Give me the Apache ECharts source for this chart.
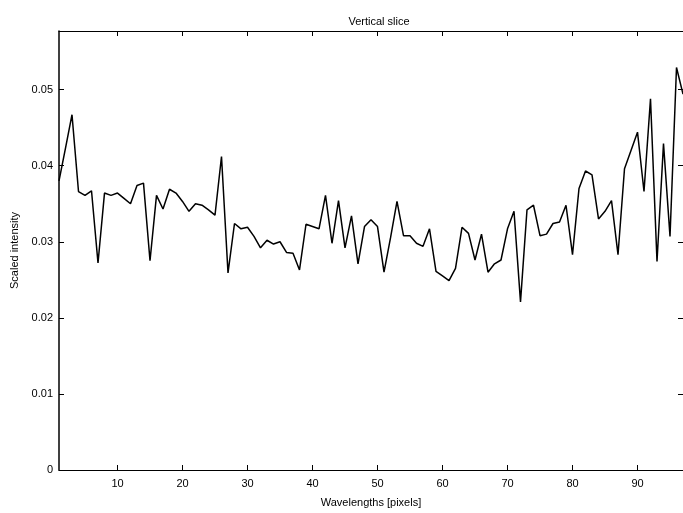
<!DOCTYPE html>
<html>
<head>
<meta charset="utf-8">
<title>Vertical slice</title>
<script src="https://cdn.jsdelivr.net/npm/echarts@6/dist/echarts.min.js"></script>
<style>
  html, body { margin: 0; padding: 0; background: #fff; }
  #chart { width: 683px; height: 513px; }
</style>
</head>
<body>
<div id="chart"></div>
<script>
// Scaled intensity per wavelength index (pixels 1..97)
const intensity = [
  0.0380, 0.0423, 0.0467, 0.0366, 0.0361, 0.0367, 0.0272, 0.0364, 0.0361, 0.0364,
  0.0357, 0.0350, 0.0374, 0.0377, 0.0275, 0.0361, 0.0343, 0.0369, 0.0364, 0.0353,
  0.0340, 0.0350, 0.0348, 0.0342, 0.0335, 0.0412, 0.0259, 0.0324, 0.0317, 0.0319,
  0.0307, 0.0292, 0.0302, 0.0297, 0.0300, 0.0286, 0.0285, 0.0263, 0.0323, 0.0320,
  0.0317, 0.0361, 0.0298, 0.0354, 0.0292, 0.0334, 0.0271, 0.0320, 0.0329, 0.0320,
  0.0260, 0.0305, 0.0353, 0.0308, 0.0308, 0.0298, 0.0294, 0.0317, 0.0261, 0.0255,
  0.0249, 0.0265, 0.0319, 0.0311, 0.0276, 0.0310, 0.0260, 0.0271, 0.0276, 0.0317,
  0.0340, 0.0221, 0.0342, 0.0348, 0.0308, 0.0310, 0.0324, 0.0326, 0.0348, 0.0283,
  0.0370, 0.0393, 0.0388, 0.0330, 0.0340, 0.0354, 0.0283, 0.0396, 0.0420, 0.0444,
  0.0366, 0.0488, 0.0274, 0.0429, 0.0307, 0.0529, 0.0494
];
const xTicks = [10, 20, 30, 40, 50, 60, 70, 80, 90];
const yTicks = [0, 0.01, 0.02, 0.03, 0.04, 0.05];

const FONT = '"Liberation Sans", Arial, sans-serif';
const points = intensity.map((v, i) => [i + 1, v]);

function line(width) {
  return { show: true, onZero: false, lineStyle: { color: '#000', width: width } };
}
function ticks(values) {
  return { show: true, inside: true, length: 5, customValues: values,
           lineStyle: { color: '#000', width: 1 } };
}

const chart = echarts.init(document.getElementById('chart'), null, { renderer: 'canvas' });
chart.setOption({
  animation: false,
  backgroundColor: '#fff',
  title: {
    text: 'Vertical slice',
    left: 374, top: 11, textAlign: 'center',
    textStyle: { fontFamily: FONT, fontSize: 11, fontWeight: 'normal', color: '#000' }
  },
  grid: { left: 59, top: 31, width: 626, height: 441 },
  xAxis: [
    {
      type: 'value', min: 1, max: 97, position: 'bottom',
      name: 'Wavelengths [pixels]', nameLocation: 'middle', nameGap: 27,
      nameTextStyle: { fontFamily: FONT, fontSize: 11, color: '#000' },
      axisLine: line(1.2),
      axisTick: ticks(xTicks),
      axisLabel: { customValues: xTicks, fontFamily: FONT, fontSize: 11, color: '#000', margin: 8 },
      splitLine: { show: false }
    },
    {
      type: 'value', min: 1, max: 97, position: 'top',
      axisLine: line(1.2),
      axisTick: ticks(xTicks),
      axisLabel: { show: false },
      splitLine: { show: false }
    }
  ],
  yAxis: [
    {
      type: 'value', min: 0, max: 0.0577, position: 'left',
      name: 'Scaled intensity', nameLocation: 'middle', nameGap: 34, nameRotate: 90,
      nameTextStyle: { fontFamily: FONT, fontSize: 11, color: '#000' },
      axisLine: line(1.5),
      axisTick: ticks(yTicks),
      axisLabel: {
        customValues: yTicks, fontFamily: FONT, fontSize: 11, color: '#000', margin: 6,
        formatter: v => (v === 0 ? '0' : v.toFixed(2))
      },
      splitLine: { show: false }
    },
    {
      type: 'value', min: 0, max: 0.0577, position: 'right',
      axisLine: line(1),
      axisTick: ticks(yTicks),
      axisLabel: { show: false },
      splitLine: { show: false }
    }
  ],
  series: [{
    type: 'line',
    data: points,
    xAxisIndex: 0, yAxisIndex: 0,
    showSymbol: false,
    lineStyle: { color: '#000', width: 1.5 },
    clip: true
  }]
});
</script>
</body>
</html>
